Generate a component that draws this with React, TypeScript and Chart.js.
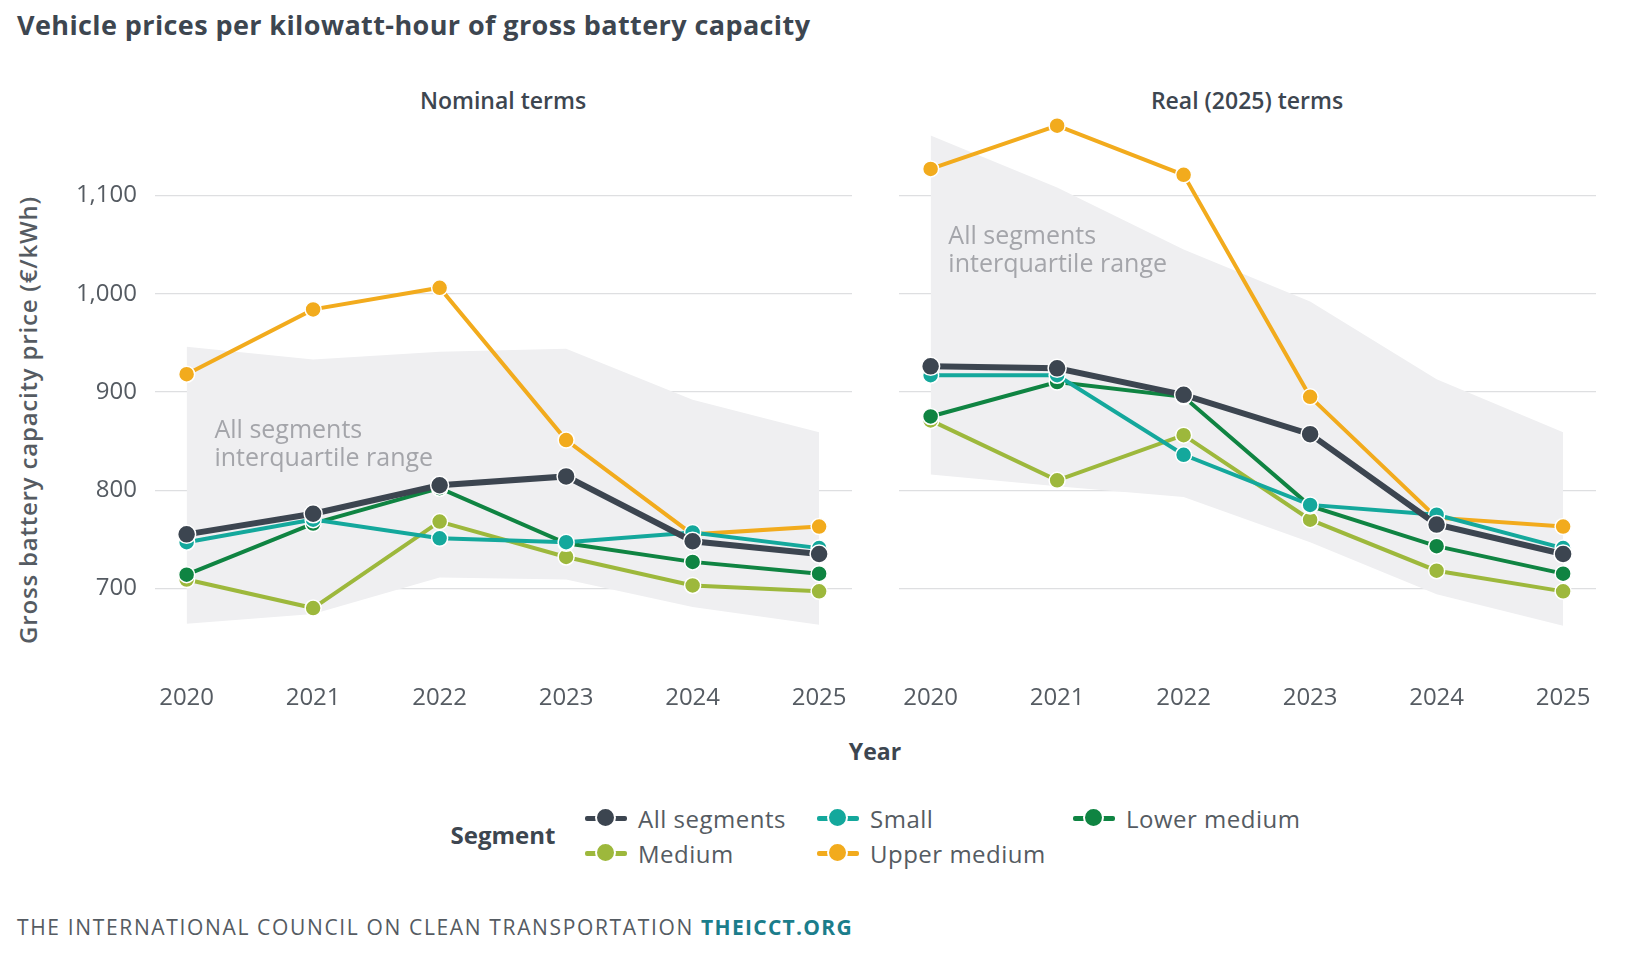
import { useEffect, useRef } from 'react';
import { Chart, registerables } from 'chart.js';

Chart.register(...registerables);

const years = [2020, 2021, 2022, 2023, 2024, 2025];
const yTicks = [700, 800, 900, 1000, 1100];

// nominal terms (€/kWh)
const nominalAll = [755, 776, 805, 814, 748, 735];
const nominalSmall = [747, 770, 751, 747, 757, 741];
const nominalLower = [714, 766, 802, 746, 727, 715];
const nominalMedium = [709, 680, 768, 732, 703, 697];
const nominalUpper = [918, 984, 1006, 851, 755, 763];
const nominalIqrLow = [664, 674, 711, 709, 681, 663];
const nominalIqrHigh = [946, 933, 941, 944, 892, 859];

// real (2025) terms (€/kWh)
const realAll = [926, 924, 897, 857, 765, 735];
const realSmall = [917, 917, 836, 785, 775, 741];
const realLower = [875, 910, 895, 784, 743, 715];
const realMedium = [871, 810, 856, 770, 718, 697];
const realUpper = [1127, 1171, 1121, 895, 772, 763];
const realIqrLow = [816, 804, 793, 747, 694, 662];
const realIqrHigh = [1161, 1108, 1045, 992, 913, 859];

const segments = ['All segments', 'Small', 'Lower medium', 'Medium', 'Upper medium'];
const segmentColors = ['#3c4550', '#14a89c', '#0f8442', '#9db83c', '#f2ab1d'];

const FONT = "'Open Sans', sans-serif";
const DARK = '#3d4650';
const GREY_TEXT = '#555b62';

const toPoints = (vals: number[]) => vals.map((v, i) => ({ x: years[i], y: v }));

type Panel = {
  series: number[][];
  iqrLow: number[];
  iqrHigh: number[];
  note: { x: number; y: number };
};

const bandNotePlugin = {
  id: 'bandNote',
  afterDatasetsDraw(chart: any, _args: any, opts: any) {
    const { ctx, scales } = chart;
    const x = scales.x.getPixelForValue(opts.x);
    const y = scales.y.getPixelForValue(opts.y);
    ctx.save();
    ctx.font = `500 25px ${FONT}`;
    ctx.fillStyle = '#a4a5aa';
    ctx.textBaseline = 'middle';
    ctx.fillText('All segments', x, y);
    ctx.fillText('interquartile range', x, y + 28);
    ctx.restore();
  },
};

// keep chart areas identical in both panels: no label-driven padding
const zeroPadding = (scale: any) => {
  scale.paddingTop = 0;
  scale.paddingBottom = 0;
  scale.paddingLeft = 0;
  scale.paddingRight = 0;
};

function PanelChart({ panel, showY, padding }: { panel: Panel; showY: boolean; padding: any }) {
  const ref = useRef<HTMLCanvasElement>(null);

  useEffect(() => {
    if (!ref.current) return;
    const lines = panel.series.map((vals, i) => ({
      label: segments[i],
      data: toPoints(vals),
      borderColor: segmentColors[i],
      backgroundColor: segmentColors[i],
      borderWidth: i === 0 ? 6 : 4,
      pointRadius: i === 0 ? 9 : 8,
      pointBorderColor: '#ffffff',
      pointBorderWidth: 1.5,
      pointBackgroundColor: segmentColors[i],
      fill: false,
      order: 0,
      clip: false as any,
    }));
    const chart = new Chart(ref.current, {
      type: 'line',
      data: {
        datasets: [
          ...lines,
          {
            label: 'iqr low',
            data: toPoints(panel.iqrLow),
            borderWidth: 0,
            pointRadius: 0,
            fill: false,
            order: 1,
          },
          {
            label: 'iqr high',
            data: toPoints(panel.iqrHigh),
            borderWidth: 0,
            pointRadius: 0,
            backgroundColor: '#efeff1',
            fill: '-1',
            order: 1,
          },
        ] as any,
      },
      options: {
        animation: false,
        responsive: true,
        maintainAspectRatio: false,
        layout: { padding, autoPadding: false },
        plugins: {
          legend: { display: false },
          tooltip: { enabled: false },
          bandNote: panel.note,
        } as any,
        scales: {
          x: {
            type: 'linear',
            min: 2019.75,
            max: 2025.26,
            afterBuildTicks: (scale: any) => {
              scale.ticks = years.map((v) => ({ value: v }));
            },
            afterFit: (scale: any) => {
              scale.height = 50;
              zeroPadding(scale);
            },
            grid: { display: false, drawTicks: false },
            border: { display: false },
            ticks: {
              padding: 17,
              color: GREY_TEXT,
              font: { family: FONT, size: 24 },
              callback: (v: any) => String(v),
            },
          },
          y: {
            min: 620,
            max: 1190,
            afterBuildTicks: (scale: any) => {
              scale.ticks = yTicks.map((v) => ({ value: v }));
            },
            afterFit: (scale: any) => {
              scale.width = showY ? 155 : 0;
              zeroPadding(scale);
            },
            grid: { color: '#dedfe1', lineWidth: 1.2, drawTicks: false },
            border: { display: false },
            ticks: {
              display: showY,
              padding: 18,
              color: GREY_TEXT,
              font: { family: FONT, size: 24 },
              callback: (v: any) => Number(v).toLocaleString('en-US'),
            },
          },
        },
      } as any,
      plugins: [bandNotePlugin],
    });
    return () => chart.destroy();
  }, [panel, showY, padding]);

  return <canvas ref={ref} />;
}

const nominalPanel: Panel = {
  series: [nominalAll, nominalSmall, nominalLower, nominalMedium, nominalUpper],
  iqrLow: nominalIqrLow,
  iqrHigh: nominalIqrHigh,
  note: { x: 2020.22, y: 860 },
};
const realPanel: Panel = {
  series: [realAll, realSmall, realLower, realMedium, realUpper],
  iqrLow: realIqrLow,
  iqrHigh: realIqrHigh,
  note: { x: 2020.14, y: 1058 },
};
const leftPad = { top: 11, right: 18, left: 0, bottom: 0 };
const rightPad = { top: 11, right: 14, left: 19, bottom: 0 };

function LegendItem({ color, label, x, y }: { color: string; label: string; x: number; y: number }) {
  return (
    <div style={{ position: 'absolute', left: x - 22, top: y - 15, height: 30, display: 'flex', alignItems: 'center' }}>
      <div style={{ position: 'relative', width: 44, height: 30 }}>
        <div style={{ position: 'absolute', left: 1, right: 1, top: 13, height: 5, background: color, borderRadius: 2 }} />
        <div
          style={{
            position: 'absolute',
            left: 12,
            top: 5,
            width: 17,
            height: 17,
            borderRadius: '50%',
            background: color,
            border: '2px solid #fff',
            boxSizing: 'content-box',
            transform: 'translate(-1px,-1px)',
          }}
        />
      </div>
      <span style={{ marginLeft: 10, fontSize: 24, letterSpacing: 0.5, color: GREY_TEXT, fontFamily: FONT, whiteSpace: 'nowrap' }}>
        {label}
      </span>
    </div>
  );
}

export default function App() {
  useEffect(() => {
    document.body.style.margin = '0';
    document.body.style.background = '#ffffff';
  }, []);

  const legendSlots = [
    { x: 606, y: 818 },
    { x: 838, y: 818 },
    { x: 1094, y: 818 },
    { x: 606, y: 853 },
    { x: 838, y: 853 },
  ];

  return (
    <div style={{ position: 'relative', width: 1640, height: 967, background: '#fff', fontFamily: FONT, overflow: 'hidden' }}>
      <div
        style={{
          position: 'absolute',
          left: 17,
          top: 6,
          fontWeight: 700,
          fontSize: 27,
          letterSpacing: 0.4,
          color: DARK,
          whiteSpace: 'nowrap',
        }}
      >
        Vehicle prices per kilowatt-hour of gross battery capacity
      </div>

      <div style={{ position: 'absolute', left: 303, width: 400, top: 84, textAlign: 'center', fontSize: 23, fontWeight: 600, color: DARK }}>
        Nominal terms
      </div>
      <div style={{ position: 'absolute', left: 1047, width: 400, top: 84, textAlign: 'center', fontSize: 23, fontWeight: 600, color: DARK }}>
        Real (2025) terms
      </div>

      <div
        style={{
          position: 'absolute',
          left: 28 - 300,
          top: 420 - 16,
          width: 600,
          height: 32,
          lineHeight: '32px',
          textAlign: 'center',
          transform: 'rotate(-90deg)',
          fontSize: 24,
          letterSpacing: 0.8,
          fontWeight: 600,
          color: GREY_TEXT,
          whiteSpace: 'nowrap',
        }}
      >
        Gross battery capacity price (€/kWh)
      </div>

      <div style={{ position: 'absolute', left: 0, top: 96, width: 870, height: 621 }}>
        <PanelChart panel={nominalPanel} showY={true} padding={leftPad} />
      </div>
      <div style={{ position: 'absolute', left: 880, top: 96, width: 730, height: 621 }}>
        <PanelChart panel={realPanel} showY={false} padding={rightPad} />
      </div>

      <div style={{ position: 'absolute', left: 675, width: 400, top: 735, textAlign: 'center', fontSize: 23, fontWeight: 700, color: DARK }}>
        Year
      </div>

      <div style={{ position: 'absolute', left: 403, width: 200, top: 818, textAlign: 'center', fontSize: 24, fontWeight: 700, color: DARK }}>
        Segment
      </div>
      {segments.map((s, i) => (
        <LegendItem key={s} color={segmentColors[i]} label={s} x={legendSlots[i].x} y={legendSlots[i].y} />
      ))}

      <div style={{ position: 'absolute', left: 17, top: 913, fontSize: 21, letterSpacing: 1.65, color: GREY_TEXT, whiteSpace: 'nowrap' }}>
        THE INTERNATIONAL COUNCIL ON CLEAN TRANSPORTATION{' '}
        <span style={{ fontWeight: 700, color: '#1b7d8b', letterSpacing: 1.3 }}>THEICCT.ORG</span>
      </div>
    </div>
  );
}
